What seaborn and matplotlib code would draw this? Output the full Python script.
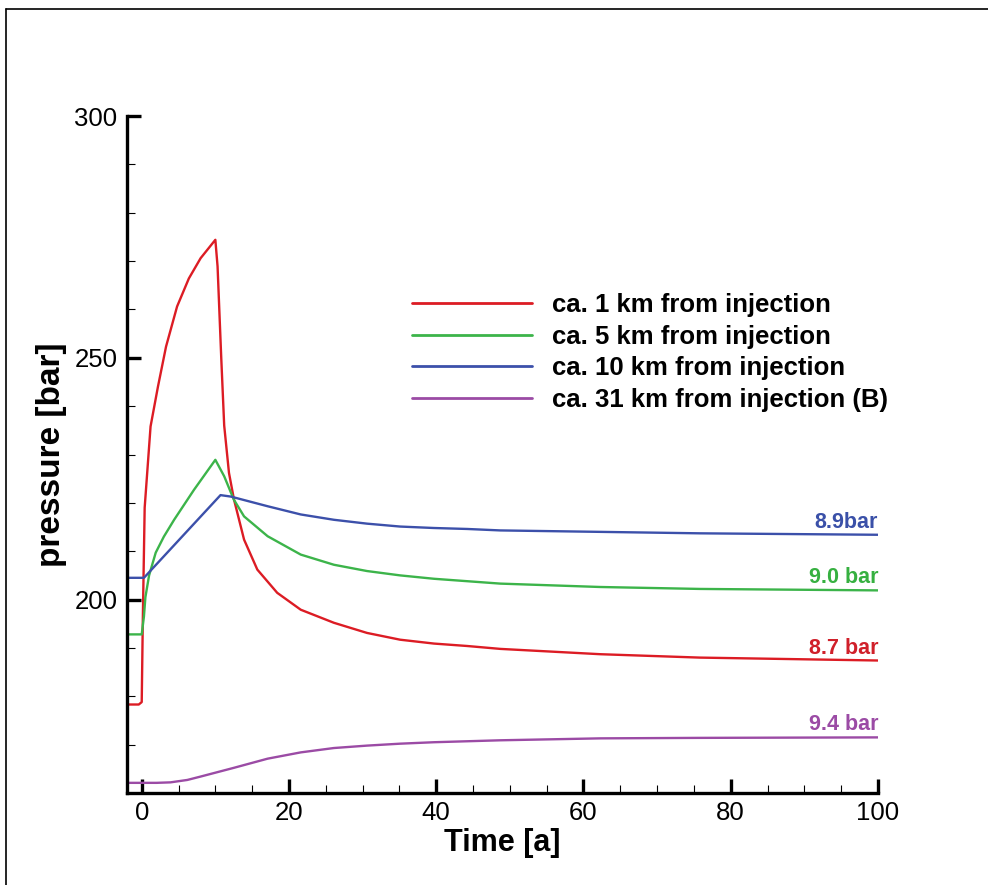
import matplotlib
matplotlib.use("Agg")
import matplotlib.pyplot as plt
from matplotlib.lines import Line2D
from matplotlib.ticker import MultipleLocator
import numpy as np
import pandas as pd
import seaborn as sns

# ---- data ----
series_names = ["ca. 1 km from injection", "ca. 5 km from injection",
                "ca. 10 km from injection", "ca. 31 km from injection (B)"]

red_t = [-2, -0.4, 0, 0.15, 0.4, 1.2, 2.2, 3.3, 4.8, 6.4, 8.0, 10.0, 10.3, 10.8, 11.2,
         11.85, 12.53, 13.9, 15.7, 18.4, 21.6, 26.1, 30.6, 35.1, 39.7, 44.2, 48.7,
         62.3, 75.8, 100]
red_p = [178.3, 178.3, 178.8, 196, 219, 235.8, 244, 252.3, 260.6, 266.4, 270.6, 274.4,
         268.9, 250, 236, 226.2, 220.7, 212.4, 206.2, 201.4, 197.9, 195.2, 193.1, 191.7,
         190.9, 190.4, 189.8, 188.7, 188.0, 187.4]

green_t = [-2, 0, 0.3, 0.5, 1.0, 1.9, 3, 4.4, 7.1, 10.0, 11.2, 12.5, 13.9, 17.1, 21.6,
           26.1, 30.6, 35.1, 39.7, 44.2, 48.7, 62.3, 75.8, 100]
green_p = [192.8, 192.8, 196.5, 200.5, 205, 209.7, 213, 216.5, 222.7, 228.9, 225.5, 220.7,
           217.2, 213.1, 209.3, 207.2, 205.9, 205.0, 204.3, 203.8, 203.3, 202.6, 202.2,
           201.9]

blue_t = [-2, 0.3, 10.7, 12.1, 17.1, 21.6, 26.1, 30.6, 35.1, 39.7, 44.2, 48.7, 62.3,
          75.8, 100]
blue_p = [204.5, 204.5, 221.6, 221.3, 219.3, 217.6, 216.5, 215.7, 215.1, 214.8, 214.6,
          214.3, 214.0, 213.7, 213.4]

purple_t = [-2, 2, 3.9, 6.2, 8.0, 12.5, 17.1, 21.6, 26.1, 30.6, 35.1, 39.7, 44.2, 48.7,
            62.3, 75.8, 100]
purple_p = [162.1, 162.1, 162.2, 162.7, 163.4, 165.2, 167.1, 168.4, 169.3, 169.8, 170.2,
            170.5, 170.7, 170.9, 171.3, 171.4, 171.5]

end_labels = ["8.7 bar", "9.0 bar", "8.9bar", "9.4 bar"]
x_ticks = [0, 20, 40, 60, 80, 100]
y_ticks = [200, 250, 300]

colors = ["#dc1c24", "#3cb44a", "#3c50aa", "#9b4ba5"]
label_colors = ["#d0202a", "#36b040", "#3a50a8", "#9b4ba5"]

frames = []
for name, t, p in zip(series_names, [red_t, green_t, blue_t, purple_t],
                      [red_p, green_p, blue_p, purple_p]):
    frames.append(pd.DataFrame({"t": t, "p": p, "series": name}))
df = pd.concat(frames, ignore_index=True)

# ---- style ----
sns.set_style("ticks")
plt.rcParams["font.family"] = ["Liberation Sans", "DejaVu Sans"]
plt.rcParams["text.color"] = "black"
plt.rcParams["axes.labelcolor"] = "black"
plt.rcParams["xtick.color"] = "black"
plt.rcParams["ytick.color"] = "black"

fig = plt.figure(figsize=(9.88, 8.85), dpi=100)
ax = fig.add_axes([127 / 988, 1 - 793 / 885, (878 - 127) / 988, (793 - 116) / 885])

sns.lineplot(data=df, x="t", y="p", hue="series", hue_order=series_names,
             palette=colors, estimator=None, sort=False, linewidth=1.7, ax=ax)

ax.set_xlim(-2, 100)
ax.set_ylim(160, 300)
ax.set_xticks(x_ticks)
ax.set_yticks(y_ticks)
ax.xaxis.set_minor_locator(MultipleLocator(5))
ax.yaxis.set_minor_locator(MultipleLocator(10))

for s in ["top", "right"]:
    ax.spines[s].set_visible(False)
for s in ["left", "bottom"]:
    ax.spines[s].set_linewidth(2.4)
    ax.spines[s].set_color("black")

ax.tick_params(which="major", direction="in", length=10, width=2.4, color="black",
               labelsize=18.5, labelcolor="black")
ax.tick_params(axis="x", which="major", pad=6)
ax.tick_params(axis="y", which="major", pad=7)
ax.tick_params(which="minor", direction="in", length=6, width=0.8, color="black")

ax.set_xlabel("Time [a]", fontsize=22, fontweight="bold", labelpad=2, color="black")
ax.set_ylabel("pressure [bar]", fontsize=24, fontweight="bold", labelpad=5, color="black")

# end labels
last_vals = [red_p[-1], green_p[-1], blue_p[-1], purple_p[-1]]
for lab, v, c in zip(end_labels, last_vals, label_colors):
    ax.annotate(lab, xy=(100, v), xytext=(0, 5), textcoords="offset points",
                ha="right", va="baseline", fontsize=15.5, fontweight="bold", color=c)

# legend
handles = [Line2D([], [], color=c, linewidth=2) for c in colors]
leg = ax.legend(handles, series_names, loc="upper left",
                bbox_to_anchor=(412 / 988, 1 - 293 / 885), bbox_transform=fig.transFigure,
                frameon=False, borderpad=0, borderaxespad=0, handlelength=4.67,
                handletextpad=0.78, labelspacing=0.3,
                prop={"size": 18.5, "weight": "bold", "family": ["Liberation Sans"]})
for txt in leg.get_texts():
    txt.set_color("black")

# figure frame lines (top and left)
fig.add_artist(Line2D([6 / 988, 1], [1 - 9 / 885, 1 - 9 / 885], transform=fig.transFigure,
                      color="black", linewidth=1.2))
fig.add_artist(Line2D([6 / 988, 6 / 988], [0, 1 - 9 / 885], transform=fig.transFigure,
                      color="black", linewidth=1.2))

fig.savefig("out.png", dpi=100)
